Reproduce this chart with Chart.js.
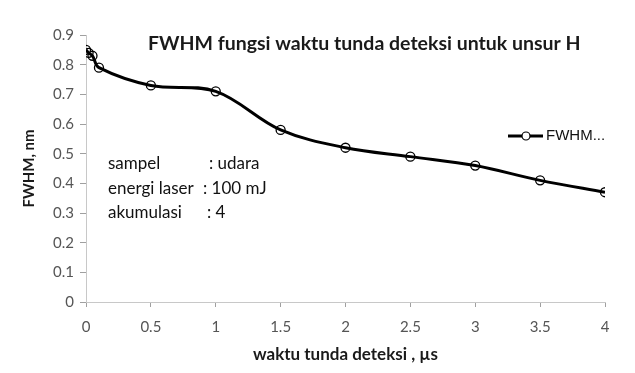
<!DOCTYPE html>
<html>
<head>
<meta charset="utf-8">
<script src="https://cdn.jsdelivr.net/npm/chart.js@4.4.0/dist/chart.umd.min.js"></script>
<style>
  html, body { margin: 0; padding: 0; background: #fff; }
  #wrap { width: 635px; height: 373px; }
</style>
</head>
<body>
<div id="wrap"><canvas id="c" width="635" height="373"></canvas></div>
<script>
// delay times (us) and FWHM (nm)
var delayTimes = [0, 0.02, 0.05, 0.1, 0.5, 1, 1.5, 2, 2.5, 3, 3.5, 4];
var fwhmValues = [0.85, 0.84, 0.83, 0.79, 0.73, 0.71, 0.58, 0.52, 0.49, 0.46, 0.41, 0.37];
var xTicks = [0, 0.5, 1, 1.5, 2, 2.5, 3, 3.5, 4];
var yTicks = [0, 0.1, 0.2, 0.3, 0.4, 0.5, 0.6, 0.7, 0.8, 0.9];
var infoLabels = ['sampel', 'energi laser', 'akumulasi'];
var infoValues = [': udara', ': 100 mJ', ': 4'];
var chartTitle = 'FWHM fungsi waktu tunda deteksi untuk unsur H';
var seriesName = 'FWHM...';

var points = delayTimes.map(function (t, i) { return { x: t, y: fwhmValues[i] }; });
var FONT = 'Lato, "Open Sans", sans-serif';

// title, info text and legend sit inside the plot area, so draw them by hand
var overlay = {
  id: 'overlay',
  afterDraw: function (chart) {
    var ctx = chart.ctx;
    ctx.save();
    ctx.fillStyle = '#1a1a1a';
    ctx.font = 'bold 19.5px ' + FONT;
    ctx.textBaseline = 'middle';
    ctx.textAlign = 'left';
    ctx.fillText(chartTitle, 148, 44);

    ctx.font = '17px ' + FONT;
    ctx.fillStyle = '#111';
    var colonX = [209, 203, 207];
    infoLabels.forEach(function (l, i) {
      var y = 164 + i * 24.5;
      ctx.fillText(l, 108, y);
      ctx.fillText(infoValues[i], colonX[i], y);
    });

    // legend
    var ly = 136;
    ctx.strokeStyle = '#000';
    ctx.lineWidth = 3;
    ctx.beginPath();
    ctx.moveTo(508, ly);
    ctx.lineTo(543, ly);
    ctx.stroke();
    ctx.lineWidth = 1.2;
    ctx.fillStyle = '#fff';
    ctx.beginPath();
    ctx.arc(526, ly, 4, 0, Math.PI * 2);
    ctx.fill();
    ctx.stroke();
    ctx.fillStyle = '#111';
    ctx.font = '15px "Liberation Sans", Arial, sans-serif';
    ctx.fillText(seriesName, 546, ly);
    ctx.restore();
  }
};

new Chart(document.getElementById('c'), {
  type: 'scatter',
  data: {
    datasets: [{
      label: seriesName,
      data: points,
      showLine: true,
      tension: 0.35,
      borderColor: '#000',
      borderWidth: 3,
      pointRadius: 4.5,
      pointBorderWidth: 1.3,
      pointBorderColor: '#000',
      pointBackgroundColor: 'rgba(255,255,255,0)',
      pointStyle: 'circle'
    }]
  },
  options: {
    responsive: false,
    animation: false,
    layout: { padding: { top: 35, right: 30, left: 0, bottom: 0 } },
    plugins: {
      legend: { display: false },
      tooltip: { enabled: false }
    },
    scales: {
      x: {
        type: 'linear',
        min: 0,
        max: 4,
        afterBuildTicks: function (axis) { axis.ticks = xTicks.map(function (v) { return { value: v }; }); },
        afterFit: function (axis) { axis.height = 71; },
        border: { color: '#c8c8c8', width: 1 },
        grid: { drawOnChartArea: false, color: '#a0a0a0', tickLength: 5 },
        ticks: {
          color: '#555',
          font: { size: 15, family: FONT },
          padding: 11,
          maxRotation: 0,
          callback: function (v) { return String(v); }
        },
        title: {
          display: true,
          text: 'waktu tunda deteksi , \u00b5s',
          color: '#1a1a1a',
          font: { size: 17, weight: 'bold', family: FONT },
          padding: { top: 0, bottom: 8 }
        }
      },
      y: {
        min: 0,
        max: 0.9,
        afterBuildTicks: function (axis) { axis.ticks = yTicks.map(function (v) { return { value: v }; }); },
        afterFit: function (axis) { axis.width = 86; },
        border: { color: '#c8c8c8', width: 1 },
        grid: { drawOnChartArea: false, color: '#a0a0a0', tickLength: 6 },
        ticks: {
          color: '#555',
          font: { size: 15, family: FONT },
          padding: 6,
          callback: function (v) { return String(v); }
        },
        title: {
          display: true,
          text: 'FWHM, nm',
          color: '#1a1a1a',
          font: { size: 15, weight: 'bold', family: FONT },
          padding: { top: 20, bottom: 0 }
        }
      }
    }
  },
  plugins: [overlay]
});
</script>
</body>
</html>
